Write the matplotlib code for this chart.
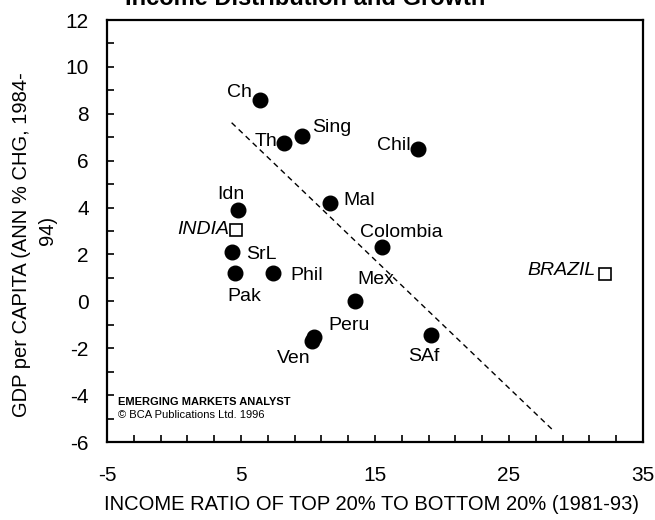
import matplotlib
matplotlib.use("Agg")
import matplotlib.pyplot as plt

plt.rcParams['font.family'] = ['Liberation Sans', 'DejaVu Sans']
plt.rcParams['axes.unicode_minus'] = False

# Data: income ratio (x) vs GDP per capita growth (y)
countries = ["Ch", "Th", "Sing", "Chil", "Idn", "Mal", "Colombia", "SrL",
             "Pak", "Phil", "Mex", "Peru", "Ven", "SAf"]
income_ratio = [6.4, 8.2, 9.55, 18.2, 4.8, 11.65, 15.5, 4.3,
                4.55, 7.4, 13.5, 10.45, 10.3, 19.2]
gdp_growth = [8.6, 6.75, 7.05, 6.5, 3.9, 4.2, 2.3, 2.1,
              1.2, 1.2, 0.0, -1.5, -1.7, -1.45]

highlight = ["INDIA", "BRAZIL"]
highlight_x = [4.6, 32.2]
highlight_y = [3.05, 1.15]

trend_x = [4.3, 28.4]
trend_y = [7.62, -5.56]

# label offsets (pixels) and alignment
label_off = {
    "Ch": (-8, 7, 'right'), "Th": (-7, 2, 'right'), "Sing": (10, 9, 'left'),
    "Chil": (-7, 3, 'right'), "Idn": (-7, 15, 'center'), "Mal": (13, 2, 'left'),
    "Colombia": (-22, 15, 'left'), "SrL": (15, -2, 'left'), "Pak": (-8, -23, 'left'),
    "Phil": (17, -2, 'left'), "Mex": (2, 22, 'left'), "Peru": (14, 11, 'left'),
    "Ven": (-1, -17, 'right'), "SAf": (-7, -21, 'center'),
}
hl_off = {"INDIA": (-6, 0, 'right'), "BRAZIL": (-10, 4, 'right')}

fig = plt.figure(figsize=(6.55, 5.2), dpi=100)
ax = fig.add_axes([107/655, 1 - 442/520, (643-107)/655, (442-20)/520])

ax.plot(trend_x, trend_y, linestyle=(0, (4, 3)), color='black', linewidth=1.0)
ax.plot(income_ratio, gdp_growth, 'o', color='black', markersize=10.5, linestyle='none')
ax.plot(highlight_x, highlight_y, 's', markerfacecolor='white', markeredgecolor='black',
        markersize=8.5, markeredgewidth=1.2, linestyle='none')

for name, x, y in zip(countries, income_ratio, gdp_growth):
    dx, dy, ha = label_off[name]
    ax.annotate(name, (x, y), xytext=(dx, dy), textcoords='offset pixels',
                ha=ha, va='center', fontsize=14)
for name, x, y in zip(highlight, highlight_x, highlight_y):
    dx, dy, ha = hl_off[name]
    ax.annotate(name, (x, y), xytext=(dx, dy), textcoords='offset pixels',
                ha=ha, va='center', fontsize=14, style='italic')

ax.set_xlim(-5, 35)
ax.set_ylim(-6, 12)
ax.set_xticks([-5, 5, 15, 25, 35])
ax.set_xticks(list(range(-3, 35, 2)), minor=True)
ax.set_yticks(list(range(-6, 13, 2)))
ax.set_yticks(list(range(-5, 12, 2)), minor=True)
ax.tick_params(which='both', direction='in', length=5, width=1.2, labelsize=15)
ax.tick_params(axis='y', which='both', pad=13, right=False)
ax.tick_params(axis='x', which='both', pad=17, top=False)
for s in ax.spines.values():
    s.set_linewidth(1.6)

fig.text((107+643)/2/655 - 0.005, 1 - 505/520, "INCOME RATIO OF TOP 20% TO BOTTOM 20% (1981-93)",
         ha='center', va='center', fontsize=14.5)
fig.text(22/655, 1 - 245/520, "GDP per CAPITA (ANN % CHG, 1984-", rotation=90,
         ha='center', va='center', fontsize=14.5)
fig.text(47/655, 1 - 230/520, "94)", rotation=90, ha='center', va='center', fontsize=14.5)

fig.text(305/655, 1 - 5/520, "Income Distribution and Growth", ha='center',
         va='baseline', fontsize=17, fontweight='bold')

ax.text(0.02, 0.095, "EMERGING MARKETS ANALYST", transform=ax.transAxes,
        fontsize=8, fontweight='bold', va='center', ha='left')
ax.text(0.02, 0.064, "\u00a9 BCA Publications Ltd. 1996", transform=ax.transAxes,
        fontsize=8, va='center', ha='left')

fig.savefig("out.png", dpi=100)
